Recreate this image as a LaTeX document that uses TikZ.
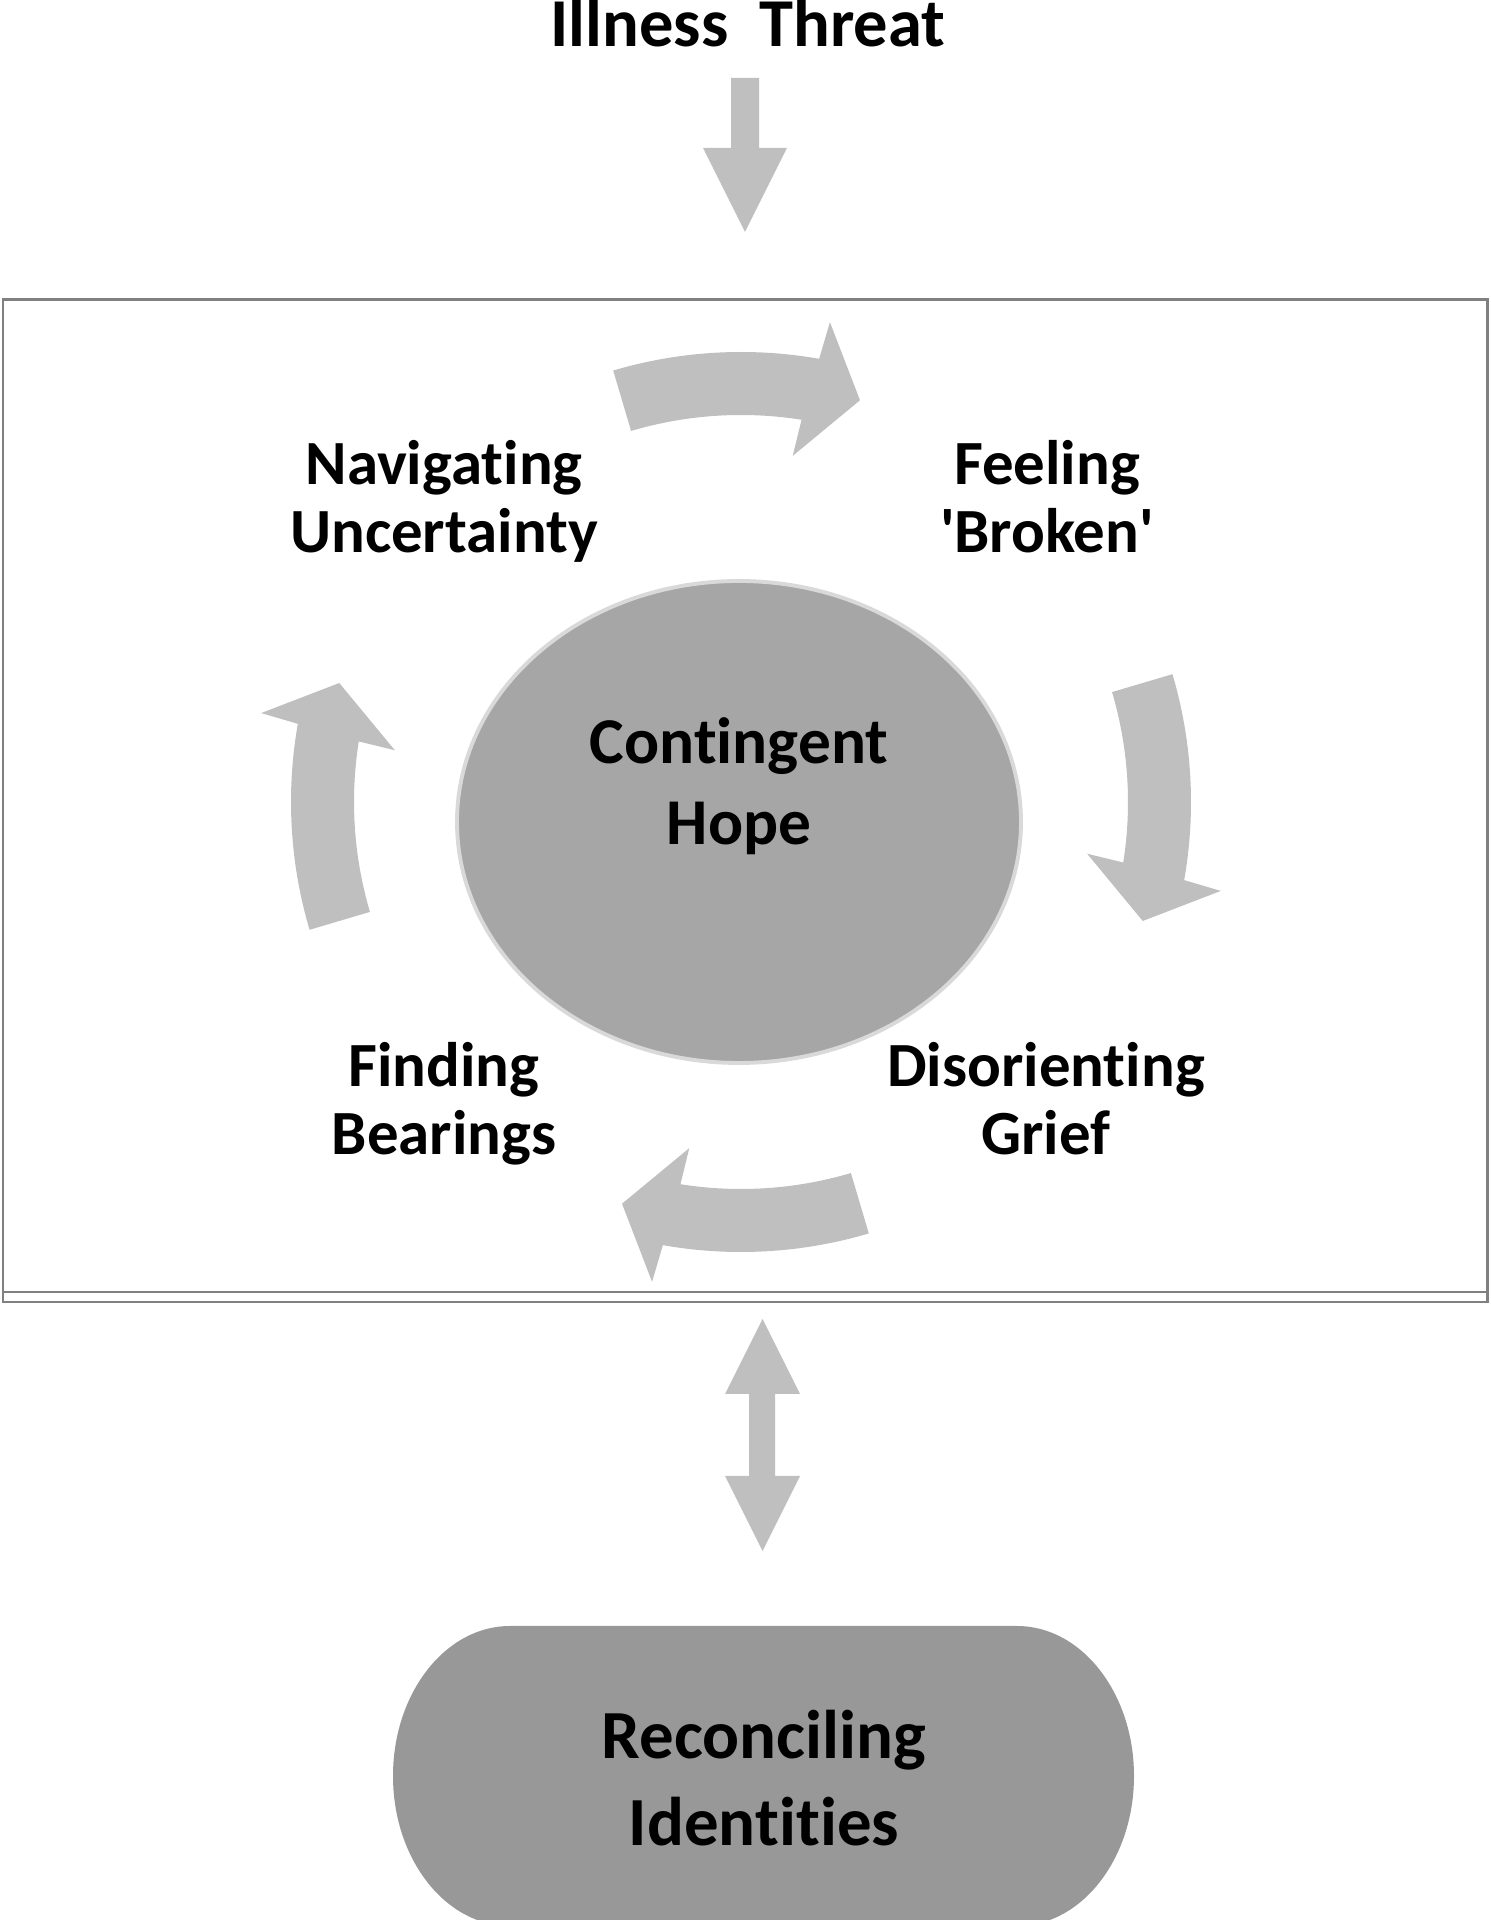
\documentclass[tikz,border=0pt]{standalone}
\usepackage{fontspec}
\setmainfont{Carlito}[RawFeature={-liga}]
\usetikzlibrary{calc}
\definecolor{ArrowGray}{RGB}{191,191,191}
\definecolor{HopeFill}{RGB}{166,166,166}
\definecolor{HopeEdge}{RGB}{217,217,217}
\definecolor{IdentFill}{RGB}{152,152,152}
\definecolor{Frame}{RGB}{128,128,128}

\tikzset{
  stage/.style={align=center, font=\fontsize{17.9}{19.4}\selectfont\bfseries},
  hopetext/.style={align=center, font=\fontsize{18.6}{23.3}\selectfont\bfseries},
  threattext/.style={font=\fontsize{19.5}{22}\selectfont\bfseries},
  identtext/.style={align=center, font=\fontsize{19.6}{24.5}\selectfont\bfseries}
}

\begin{document}
\begin{tikzpicture}[x=0.1mm,y=0.1mm]
\useasboundingbox (0,0) rectangle (1490,1920);

% frame round the cycle
\draw[Frame, line width=0.85pt] (3,618) rectangle (1487,1620);
\draw[Frame, line width=0.85pt] (3,628) -- (1487,628);

% threat coming in
\node[threattext, anchor=base] (threat) at (748,1873) {Illness\ \ Threat};
\fill[ArrowGray] (731,1842) -- (759,1842) -- (759,1772) -- (787,1772) -- (745,1688) -- (703,1772) -- (731,1772) -- cycle;

% contingent hope
\fill[HopeFill, draw=HopeEdge, line width=1.1pt] (739,1098) ellipse[x radius=282, y radius=241];
\node[hopetext, anchor=base] (hope) at (739,1075) {Contingent\\Hope};

% cycle arrows
\coordinate (cc) at (741,1118);
\foreach \a in {90,0,-90,180}
  \fill[ArrowGray] ($(cc)+({\a+16.5}:450)$) arc[start angle=\a+16.5, end angle=\a-10, radius=450]
    -- ($(cc)+({\a-10.5}:488)$) -- ($(cc)+({\a-16.5}:419)$) -- ($(cc)+({\a-8.5}:350)$)
    -- ($(cc)+({\a-9}:387)$) arc[start angle=\a-9, end angle=\a+16.5, radius=387] -- cycle;

% base anchor sits on the last line
\node[stage, anchor=base] (nav) at (444,1367) {Navigating\\Uncertainty};
\node[stage, anchor=base] (broken) at (1047,1367) {Feeling\\\textquotesingle Broken\textquotesingle};
\node[stage, anchor=base] (grief) at (1046,765) {Disorienting\\Grief};
\node[stage, anchor=base] (bearings) at (444,765) {Finding\\Bearings};

% link to identities
\fill[ArrowGray] (762.5,601) -- (800,526) -- (775,526) -- (775,444) -- (800,444) -- (762.5,369)
  -- (725,444) -- (749,444) -- (749,526) -- (725,526) -- cycle;

\fill[IdentFill] (510,294) -- (1017,294) arc[start angle=90, end angle=-90, x radius=117, y radius=150]
  -- (510,-6) arc[start angle=270, end angle=90, x radius=117, y radius=150] -- cycle;
\node[identtext, anchor=base] (ident) at (764,75) {Reconciling\\Identities};
\end{tikzpicture}
\end{document}
